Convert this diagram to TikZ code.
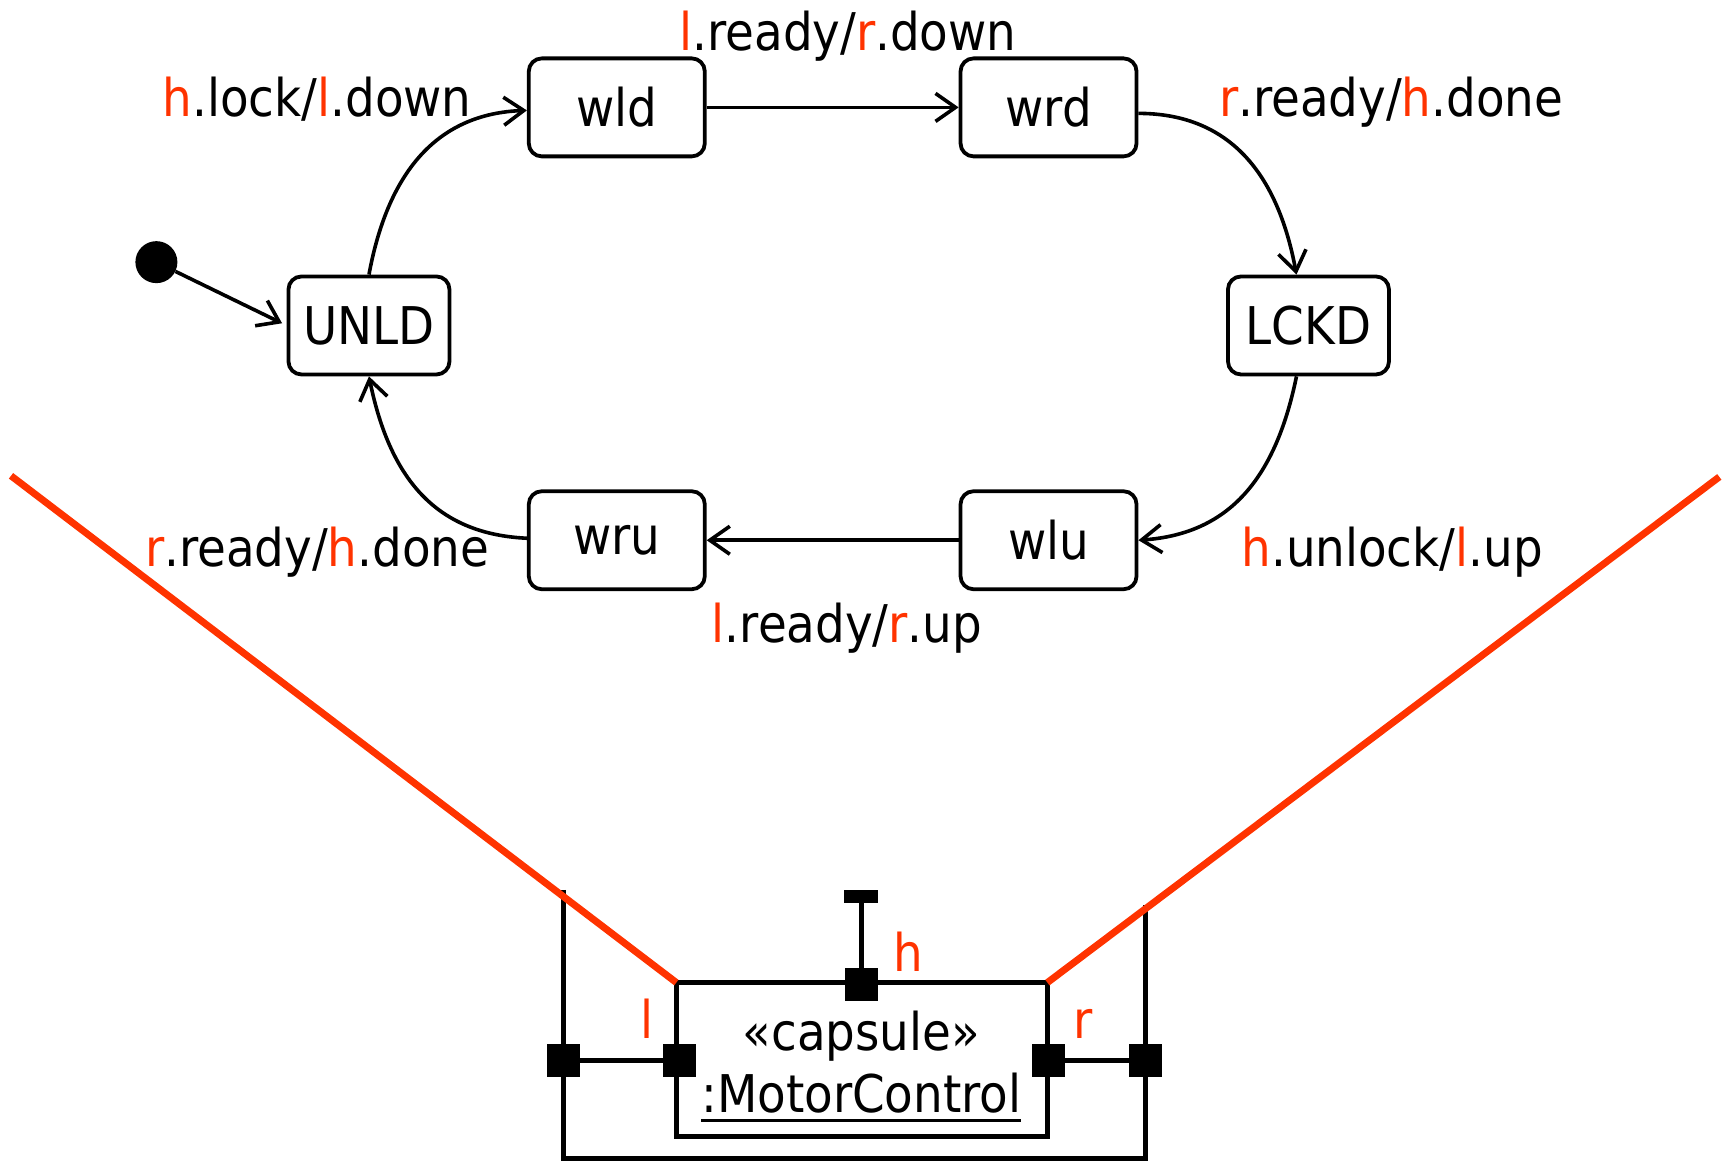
\documentclass[tikz,border=0pt]{standalone}
\usepackage{fontspec}
\setmainfont{DejaVu Sans Condensed}
\usetikzlibrary{arrows.meta}
\definecolor{portred}{RGB}{255,51,0}
\newcommand\rd[1]{\textcolor{portred}{#1}}
\begin{document}
\begin{tikzpicture}[x=1.1014pt,y=-1.1014pt,
  bigtext/.style={font=\fontsize{52}{62}\selectfont},
  state/.style={draw, line width=3.8pt, rounded corners=13pt, minimum width=176pt,
    minimum height=98pt, inner sep=0pt, bigtext},
  trans/.style={line width=3.6pt, -{Straight Barb[length=20pt,width=28pt]}},
  lbl/.style={bigtext, anchor=base, inner sep=0pt},
  port/.style={fill=black, minimum size=33pt, inner sep=0pt, outer sep=0pt},
  frame/.style={line width=5pt},
  redline/.style={draw=portred, line width=7pt}]
\useasboundingbox (0,0) rectangle (1568,1056);

% states of the motor controller
\node[state] (wld)  at (560,97.5)  {wld};
\node[state] (wrd)  at (952,97.5)  {wrd};
\node[state, minimum width=161pt] (UNLD) at (335,295.5) {UNLD};
\node[state, minimum width=161pt] (LCKD) at (1188,295.5) {LCKD};
\node[state] (wru)  at (560,490.5) {wru};
\node[state] (wlu)  at (952,490.5) {wlu};
\node[circle, fill, minimum size=42pt, inner sep=0pt] (init) at (142,238) {};

% transitions
\draw[trans, shorten >=5pt] (init) -- (UNLD.west);
\draw[trans] (UNLD.north) .. controls (353,152) and (400,103) .. ([yshift=-3pt]wld.west);
\draw[trans] (wld.east) -- (wrd.west);
\draw[trans] ([yshift=-6pt]wrd.east) .. controls (1112,103) and (1159,152) .. ([xshift=-12pt]LCKD.north);
\draw[trans] ([xshift=-12pt]LCKD.south) .. controls (1157,440) and (1112,485) .. (wlu.east);
\draw[trans] (wlu.west) -- (wru.east);
\draw[trans] ([yshift=2pt]wru.west) .. controls (400,485) and (355,440) .. (UNLD.south);

% transition labels
\node[lbl] (t1) at (288,106) {\rd{h}.lock/\rd{l}.down};
\node[lbl] (t2) at (770,46)  {\rd{l}.ready/\rd{r}.down};
\node[lbl] (t3) at (1263,106) {\rd{r}.ready/\rd{h}.done};
\node[lbl] (t4) at (1264,514) {\rd{h}.unlock/\rd{l}.up};
\node[lbl] (t5) at (769,583) {\rd{l}.ready/\rd{r}.up};
\node[lbl] (t6) at (288,514) {\rd{r}.ready/\rd{h}.done};

% capsule structure
\coordinate (fl) at (512,808);
\coordinate (fbl) at (512,1052);
\coordinate (fbr) at (1040,1052);
\coordinate (fr) at (1040,822);
\draw[frame] (fl) -- (fbl) -- (fbr) -- (fr);

\node[draw, frame, outer sep=0pt, minimum width=371pt, minimum height=154pt] (capsule) at (782.5,962) {};
\node[lbl] (st) at (782,954) {«capsule»};
\node[lbl] (mc) at (782,1010) {:MotorControl};
\draw[line width=3pt] ([yshift=-8pt]mc.base west) -- ([yshift=-8pt]mc.base east);

\node[fill=black, minimum width=34pt, minimum height=13pt, inner sep=0pt] (hcap) at (782,814) {};
\node[port] (hp) at (782,894) {};
\node[port] (lp) at (617,963) {};
\node[port] (lo) at (512,963) {};
\node[port] (rp) at (952,963) {};
\node[port] (ro) at (1040,963) {};
\draw[frame] (hcap) -- (hp);
\draw[frame] (lo) -- (lp);
\draw[frame] (rp) -- (ro);

\node[lbl, text=portred] (hl) at (825,882) {h};
\node[lbl, text=portred] (ll) at (587,943) {l};
\node[lbl, text=portred] (rl) at (983,943) {r};

% zoom lines from the capsule up to its state machine
\coordinate (redL) at (10,432);
\coordinate (redR) at (1561,433);
\draw[redline] (redL) -- (capsule.north west);
\draw[redline] (redR) -- (capsule.north east);
\end{tikzpicture}
\end{document}
